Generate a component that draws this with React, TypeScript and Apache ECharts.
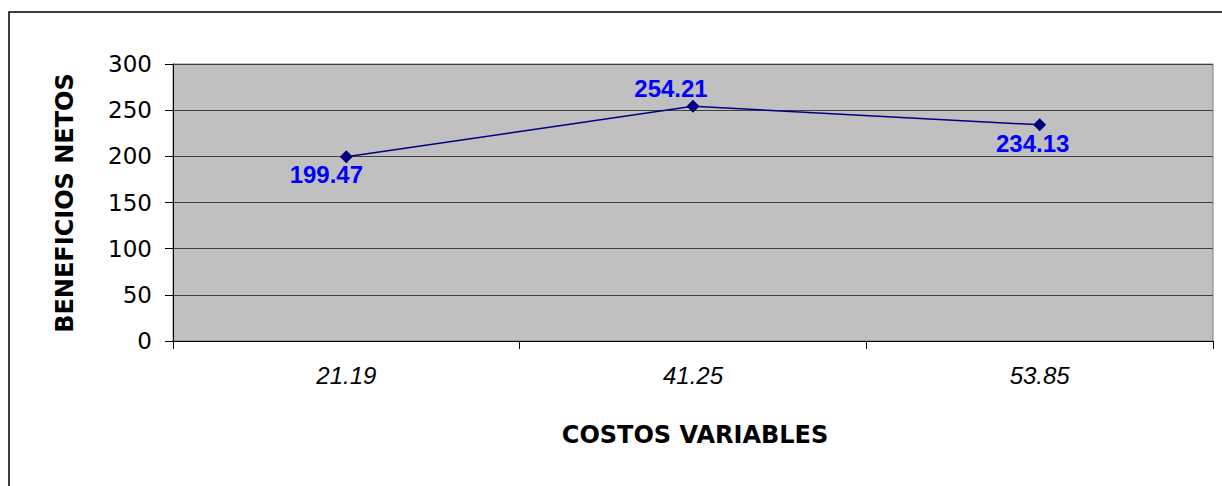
import React, { useEffect, useRef } from "react";
import * as echarts from "echarts";

const categories = ["21.19", "41.25", "53.85"];
const values = [199.47, 254.21, 234.13];
const labelOffsets: [number, number][] = [[-20, 18], [-22, -18], [-7, 19]];
const yTitle = "BENEFICIOS NETOS";
const xTitle = "COSTOS VARIABLES";

export default function App() {
  const ref = useRef<HTMLDivElement>(null);
  useEffect(() => {
    if (!ref.current) return;
    const chart = echarts.init(ref.current, undefined, { renderer: "svg" });
    chart.setOption({
      animation: false,
      backgroundColor: "#ffffff",
      grid: {
        left: 173,
        top: 64,
        right: 9,
        bottom: 145,
        show: true,
        backgroundColor: "#C0C0C0",
        borderColor: "#808080",
        borderWidth: 1,
      },
      xAxis: {
        type: "category",
        data: categories,
        boundaryGap: true,
        axisLine: { show: true, lineStyle: { color: "#000", width: 1 } },
        axisTick: { show: true, length: 8, lineStyle: { color: "#000" } },
        axisLabel: {
          margin: 22,
          fontFamily: "Liberation Sans",
          fontStyle: "italic",
          fontSize: 24,
          color: "#000",
        },
        splitLine: { show: false },
      },
      yAxis: {
        type: "value",
        min: 0,
        max: 300,
        interval: 50,
        axisLine: { show: true, lineStyle: { color: "#000", width: 1 } },
        axisTick: { show: true, length: 8, lineStyle: { color: "#000" } },
        axisLabel: {
          margin: 21,
          fontFamily: "DejaVu Sans",
          fontSize: 23,
          color: "#000",
        },
        splitLine: { show: true, lineStyle: { color: "#404040", width: 1 } },
      },
      series: [
        {
          type: "line",
          data: values.map((v, i) => ({
            value: v,
            label: { offset: labelOffsets[i] },
          })),
          symbol: "diamond",
          symbolSize: 13,
          lineStyle: { color: "#000080", width: 1.5 },
          itemStyle: { color: "#000080" },
          label: {
            show: true,
            position: "inside",
            formatter: (p: any) => p.value.toFixed(2),
            fontFamily: "Liberation Sans",
            fontWeight: "bold",
            fontSize: 24,
            color: "#0000FF",
          },
        },
      ],
      graphic: [
        {
          type: "rect",
          shape: { x: 9, y: 12, width: 1300, height: 600 },
          style: { fill: "none", stroke: "#000", lineWidth: 1.5 },
          silent: true,
          z: -1,
        },
        {
          type: "text",
          x: 65,
          y: 203,
          rotation: Math.PI / 2,
          style: {
            text: yTitle,
            fontFamily: "DejaVu Sans",
            fontWeight: "bold",
            fontSize: 24,
            fill: "#000",
            align: "center",
            verticalAlign: "middle",
          },
        },
        {
          type: "text",
          x: 695,
          y: 435,
          style: {
            text: xTitle,
            fontFamily: "DejaVu Sans",
            fontWeight: "bold",
            fontSize: 24,
            fill: "#000",
            align: "center",
            verticalAlign: "middle",
          },
        },
      ],
    });
    return () => chart.dispose();
  }, []);
  return (
    <div
      ref={ref}
      style={{ position: "fixed", left: 0, top: 0, width: 1222, height: 486 }}
    />
  );
}
